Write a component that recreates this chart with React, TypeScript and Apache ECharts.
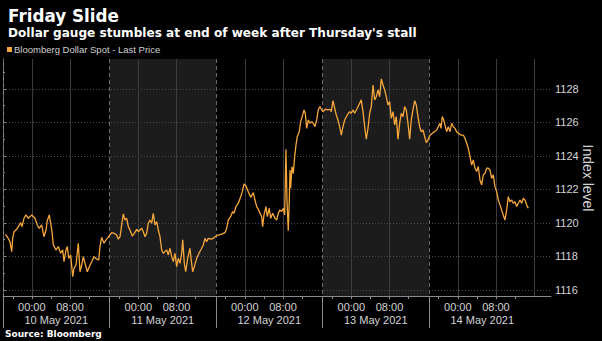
import React, { useEffect, useRef } from "react";
import * as echarts from "echarts";

const TITLE = "Friday Slide";
const SUBTITLE = "Dollar gauge stumbles at end of week after Thursday's stall";
const SERIES_NAME = "Bloomberg Dollar Spot - Last Price";
const SOURCE = "Source: Bloomberg";
const AXIS_NAME = "Index level";

const DAY_LABELS = ["10 May 2021", "11 May 2021", "12 May 2021", "13 May 2021", "14 May 2021"];
const TIME_LABELS = ["00:00", "08:00"];
const TIME_OFFSETS = [6.5, 15.1]; // session hours after each day's start
const MINOR_TIME_OFFSETS = [2.2, 6.5, 10.8, 15.1, 19.4];
const SESSION_HOURS = 24;
const SESSION_END_OFFSET = 23.66;
const SHADED_DAYS = [1, 3];
const Y_TICKS = [1116, 1118, 1120, 1122, 1124, 1126, 1128];
const Y_MINOR = [1117, 1119, 1121, 1123, 1125, 1127, 1129];
const X_MIN = 0;
const X_MAX = 123.5;
const Y_MIN = 1115.64;
const Y_MAX = 1129.79;

// [session hour, index value]
const MAY10: [number, number][] = [
  [0.5, 1119.3], [0.68, 1119.28], [1.19, 1119.08], [1.58, 1118.88], [1.96, 1118.29], [2.19, 1119.08], [2.48, 1119.48],
  [3.09, 1119.62], [3.45, 1119.78], [3.99, 1120.02], [4.28, 1119.78], [4.73, 1120.28], [5.18, 1120.48], [5.7, 1120.28],
  [6.47, 1120.48], [7.21, 1120.28], [7.73, 1119.88], [8.18, 1119.68], [8.72, 1119.88], [9.24, 1119.18], [9.69, 1119.58],
  [9.98, 1120.14], [10.43, 1120.48], [10.75, 1119.98], [11.04, 1119.48], [11.34, 1118.69], [11.94, 1118.39], [12.46, 1118.59],
  [13.0, 1118.19], [13.45, 1118.39], [13.75, 1117.69], [14.2, 1118.39], [14.49, 1118.59], [14.81, 1117.89], [15.26, 1118.09],
  [15.71, 1116.79], [16.0, 1117.29], [16.45, 1117.49], [16.97, 1118.79], [17.35, 1117.09], [17.74, 1117.49], [18.1, 1117.99],
  [18.48, 1117.59], [19.0, 1117.09], [19.45, 1117.39], [19.99, 1117.69], [20.51, 1117.99], [21.12, 1117.84], [21.57, 1117.79],
  [21.86, 1118.59], [22.24, 1119.14], [22.76, 1118.79], [23.21, 1118.99], [23.5, 1119.08],
];
const MAY11: [number, number][] = [
  [24.5, 1119.42], [25.08, 1119.38], [25.62, 1119.28], [25.98, 1119.03], [26.37, 1119.18], [26.75, 1119.88], [27.11, 1120.54],
  [27.49, 1120.18], [27.87, 1120.28], [28.24, 1119.78], [28.62, 1119.58], [29.14, 1119.22], [29.59, 1119.38], [30.13, 1119.62],
  [30.49, 1119.48], [30.87, 1119.58], [31.26, 1119.68], [31.62, 1119.48], [32.0, 1119.18], [32.38, 1119.38], [32.74, 1119.98],
  [33.13, 1120.18], [33.51, 1119.98], [33.87, 1120.58], [34.25, 1119.88], [34.64, 1120.08], [35.0, 1119.58], [35.38, 1119.18],
  [35.76, 1118.39], [36.12, 1118.19], [36.51, 1118.29], [36.89, 1118.39], [37.25, 1118.09], [37.63, 1118.49], [38.02, 1117.99],
  [38.38, 1117.69], [38.76, 1118.19], [39.14, 1117.39], [39.5, 1117.89], [39.89, 1117.59], [40.27, 1118.19], [40.5, 1118.99],
  [40.86, 1117.59], [41.17, 1117.09], [41.62, 1117.89], [42.14, 1118.49], [42.37, 1117.89], [42.75, 1117.09], [43.11, 1117.39],
  [43.65, 1117.89], [44.17, 1118.19], [44.78, 1118.49], [45.14, 1118.69], [45.52, 1119.08], [45.9, 1118.88], [46.26, 1119.08],
  [46.87, 1119.03], [47.39, 1119.08], [47.77, 1119.18],
];
const MAY12: [number, number][] = [
  [48.52, 1119.28], [49.28, 1119.34], [50.03, 1119.42], [50.41, 1119.68], [50.77, 1120.18], [51.31, 1120.38], [51.76, 1120.68],
  [52.06, 1120.58], [52.51, 1120.98], [53.03, 1121.18], [53.57, 1121.57], [53.93, 1121.87], [54.31, 1122.33], [54.76, 1122.21],
  [55.28, 1121.87], [55.82, 1121.53], [56.41, 1121.81], [56.79, 1121.37], [57.17, 1120.98], [57.53, 1120.82], [57.92, 1120.58],
  [58.3, 1120.38], [58.52, 1119.78], [58.82, 1120.48], [59.27, 1120.98], [59.56, 1120.38], [60.01, 1120.88], [60.33, 1120.28],
  [60.78, 1120.58], [61.3, 1120.28], [61.68, 1120.18], [62.04, 1120.58], [62.42, 1120.78], [62.81, 1120.68], [63.17, 1120.88],
  [63.48, 1120.48], [63.77, 1124.4], [64.0, 1121.37], [64.29, 1119.54], [64.52, 1121.37], [64.68, 1123.16], [64.83, 1122.07],
  [65.13, 1123.36], [65.42, 1122.96], [65.73, 1123.96], [66.03, 1124.66], [66.32, 1125.16], [66.77, 1125.45], [67.09, 1126.05],
  [67.54, 1126.45], [67.83, 1126.75], [68.12, 1126.55], [68.44, 1125.65], [68.8, 1126.15], [69.18, 1125.95], [69.57, 1126.05],
  [69.93, 1125.95], [70.31, 1125.75], [70.69, 1126.15], [71.05, 1126.75], [71.44, 1126.95], [71.82, 1126.75],
];
const MAY13: [number, number][] = [
  [72.11, 1126.65], [72.63, 1126.79], [73.24, 1126.75], [73.69, 1126.79], [73.98, 1126.65], [74.37, 1127.3], [74.75, 1126.85],
  [75.11, 1126.45], [75.49, 1126.15], [75.87, 1125.75], [76.24, 1125.25], [76.62, 1125.75], [77.0, 1126.15], [77.59, 1126.45],
  [78.13, 1126.65], [78.49, 1126.55], [78.87, 1126.75], [79.26, 1126.55], [79.84, 1126.85], [80.38, 1127.15], [80.74, 1127.35],
  [81.13, 1126.65], [81.51, 1125.75], [81.87, 1125.0], [82.25, 1125.65], [82.64, 1126.55], [83.0, 1126.95], [83.38, 1128.24],
  [83.76, 1127.35], [84.13, 1127.54], [84.51, 1127.94], [84.89, 1127.54], [85.25, 1128.6], [85.63, 1128.24], [86.02, 1127.94],
  [86.38, 1127.54], [86.76, 1127.04], [87.14, 1127.25], [87.5, 1126.25], [87.89, 1126.65], [88.27, 1125.85], [88.63, 1126.35],
  [89.01, 1125.0], [89.4, 1125.95], [89.76, 1126.55], [90.14, 1126.35], [90.52, 1126.95], [90.88, 1126.75], [91.27, 1125.95],
  [91.65, 1125.0], [92.01, 1126.15], [92.39, 1126.75], [92.78, 1127.3], [93.14, 1127.04], [93.52, 1126.35], [93.9, 1125.75],
  [94.26, 1125.45], [94.65, 1125.55], [95.03, 1125.16], [95.39, 1124.8], [95.77, 1124.95],
];
const MAY14: [number, number][] = [
  [96.23, 1125.25], [96.74, 1125.35], [97.2, 1125.45], [97.74, 1125.55], [98.1, 1125.75], [98.48, 1125.95], [98.7, 1125.65],
  [99.0, 1126.35], [99.32, 1126.15], [99.61, 1125.85], [99.99, 1125.45], [100.35, 1125.75], [100.73, 1125.45], [101.12, 1125.95],
  [101.48, 1125.75], [101.86, 1125.65], [102.24, 1125.45], [102.6, 1125.35], [103.21, 1125.25], [103.73, 1125.25], [104.11, 1125.06],
  [104.5, 1124.76], [104.86, 1124.46], [105.24, 1123.96], [105.62, 1123.46], [105.98, 1123.76], [106.37, 1123.27], [106.75, 1123.07],
  [107.11, 1123.37], [107.49, 1122.57], [107.88, 1122.27], [108.24, 1122.87], [108.62, 1122.97], [109.0, 1123.27], [109.36, 1123.27],
  [109.75, 1123.16], [110.13, 1122.67], [110.49, 1122.87], [110.87, 1122.17], [111.25, 1121.87], [111.62, 1121.37], [112.0, 1121.08],
  [112.38, 1120.78], [112.74, 1120.48], [113.13, 1120.18], [113.51, 1120.78], [113.87, 1121.57], [114.25, 1121.27], [114.64, 1121.37],
  [115.0, 1121.18], [115.38, 1121.27], [115.76, 1120.98], [116.12, 1121.18], [116.51, 1121.37], [116.89, 1121.18], [117.25, 1121.48],
  [117.63, 1121.37], [118.01, 1121.08], [118.38, 1120.88],
];

const LABEL_COLOR = "#d4d4d4";
const AXIS_COLOR = "#8a8a8a";
const LINE_COLOR = "#f6a73b";

export default function App() {
  const ref = useRef<HTMLDivElement>(null);

  useEffect(() => {
    document.body.style.margin = "0";
    document.body.style.background = "#000";
    if (!ref.current) return;
    const chart = echarts.init(ref.current, null, { renderer: "svg" });

    const dayStarts = DAY_LABELS.map((_, i) => i * SESSION_HOURS);
    const timeLabelValues = dayStarts.flatMap((d) => TIME_OFFSETS.map((o) => d + o));
    const timeTickValues = dayStarts.flatMap((d) => MINOR_TIME_OFFSETS.map((o) => d + o));
    const dayCenters = dayStarts.map((d) => d + SESSION_HOURS / 2);
    const solidGrid = [...timeLabelValues, dayStarts[dayStarts.length - 1] + SESSION_END_OFFSET];
    const allData = [...MAY10, ...MAY11, ...MAY12, ...MAY13, ...MAY14];

    const timeFormatter = (v: number) => {
      const off = v - Math.floor(v / SESSION_HOURS) * SESSION_HOURS;
      let best = 0;
      TIME_OFFSETS.forEach((o, i) => {
        if (Math.abs(o - off) < Math.abs(TIME_OFFSETS[best] - off)) best = i;
      });
      return TIME_LABELS[best];
    };

    const option: any = {
      animation: false,
      backgroundColor: "#000",
      title: [
        {
          text: TITLE,
          left: 3,
          top: 2,
          textStyle: { color: "#fff", fontFamily: "DejaVu Sans", fontWeight: "bold", fontSize: 16.8 },
        },
        {
          text: SUBTITLE,
          left: 3,
          top: 22,
          textStyle: { color: "#fff", fontFamily: "DejaVu Sans", fontWeight: "bold", fontSize: 12.1 },
        },
      ],
      graphic: [
        { type: "rect", left: 7, top: 47, shape: { width: 5, height: 5 }, style: { fill: LINE_COLOR } },
        {
          type: "text",
          left: 14,
          top: 44.5,
          style: { text: SERIES_NAME, fill: "#d0d0d0", font: "9.5px 'Liberation Sans'" },
        },
        {
          type: "text",
          left: 5,
          top: 329,
          style: { text: SOURCE, fill: "#fff", font: "bold 9px 'DejaVu Sans'" },
        },
        {
          type: "text",
          x: 588,
          y: 178,
          rotation: -Math.PI / 2,
          style: {
            text: AXIS_NAME,
            fill: LABEL_COLOR,
            font: "14px 'Liberation Sans'",
            align: "center",
            verticalAlign: "middle",
          },
        },
      ],
      grid: { left: 3, right: 51, top: 59, bottom: 45, containLabel: false, outerBoundsMode: "none" },
      xAxis: [
        {
          type: "value",
          min: X_MIN,
          max: X_MAX,
          position: "bottom",
          axisLine: { show: true, lineStyle: { color: AXIS_COLOR, width: 1 } },
          axisTick: { show: true, customValues: timeTickValues, length: 3, lineStyle: { color: AXIS_COLOR } },
          axisLabel: {
            customValues: timeLabelValues,
            formatter: timeFormatter,
            color: LABEL_COLOR,
            fontFamily: "Liberation Sans",
            fontSize: 11,
            margin: 5,
          },
          splitLine: { show: false },
        },
        {
          type: "value",
          min: X_MIN,
          max: X_MAX,
          position: "bottom",
          axisLine: { show: false },
          axisTick: { show: true, customValues: dayStarts, length: 32, lineStyle: { color: AXIS_COLOR } },
          axisLabel: {
            customValues: dayCenters,
            formatter: (v: number) => DAY_LABELS[Math.floor(v / SESSION_HOURS)] ?? "",
            color: LABEL_COLOR,
            fontFamily: "Liberation Sans",
            fontSize: 11,
            margin: 18,
          },
          splitLine: { show: false },
        },
      ],
      yAxis: [
        {
          type: "value",
          position: "right",
          min: Y_MIN,
          max: Y_MAX,
          axisLine: { show: true, lineStyle: { color: AXIS_COLOR } },
          axisTick: { show: true, customValues: Y_TICKS, length: 3, lineStyle: { color: AXIS_COLOR } },
          axisLabel: {
            customValues: Y_TICKS,
            formatter: (v: number) => String(v),
            color: LABEL_COLOR,
            fontFamily: "Liberation Sans",
            fontSize: 11,
            margin: 4,
          },
          splitLine: { show: false },
        },
        {
          type: "value",
          position: "right",
          min: Y_MIN,
          max: Y_MAX,
          axisLine: { show: false },
          axisTick: { show: true, customValues: Y_MINOR, length: 2, lineStyle: { color: AXIS_COLOR } },
          axisLabel: { show: false },
          splitLine: { show: false },
        },
      ],
      series: [
        {
          type: "custom",
          silent: true,
          z: 0,
          encode: { x: [0, 1], y: [2, 3] },
          data: SHADED_DAYS.map((d) => [dayStarts[d], dayStarts[d] + SESSION_HOURS, Y_MIN, Y_MAX]),
          renderItem: (_p: any, api: any) => {
            const a = api.coord([api.value(0), api.value(3)]);
            const b = api.coord([api.value(1), api.value(2)]);
            return {
              type: "rect",
              shape: { x: a[0], y: a[1], width: b[0] - a[0], height: b[1] - a[1] },
              style: { fill: "#1c1c1c" },
            };
          },
        },
        {
          type: "custom",
          silent: true,
          z: 1,
          encode: { x: [0, 1], y: 2 },
          data: Y_TICKS.map((v) => [X_MIN, X_MAX, v]),
          renderItem: (_p: any, api: any) => {
            const a = api.coord([api.value(0), api.value(2)]);
            const b = api.coord([api.value(1), api.value(2)]);
            return {
              type: "line",
              shape: { x1: a[0], y1: Math.round(a[1]) + 0.5, x2: b[0], y2: Math.round(b[1]) + 0.5 },
              style: { stroke: "#4a4a4a", lineWidth: 1, lineDash: [1, 2] },
            };
          },
        },
        {
          type: "custom",
          silent: true,
          z: 1,
          encode: { x: 0, y: [1, 2] },
          data: solidGrid.map((x) => [x, Y_MIN, Y_MAX]),
          renderItem: (_p: any, api: any) => {
            const a = api.coord([api.value(0), api.value(2)]);
            const b = api.coord([api.value(0), api.value(1)]);
            return {
              type: "line",
              shape: { x1: Math.round(a[0]) + 0.5, y1: a[1], x2: Math.round(b[0]) + 0.5, y2: b[1] },
              style: { stroke: "#3c3c3c", lineWidth: 1 },
            };
          },
        },
        {
          type: "custom",
          silent: true,
          z: 2,
          encode: { x: 0, y: [1, 2] },
          data: dayStarts.map((x) => [x, Y_MIN, Y_MAX]),
          renderItem: (_p: any, api: any) => {
            const a = api.coord([api.value(0), api.value(2)]);
            const b = api.coord([api.value(0), api.value(1)]);
            return {
              type: "line",
              shape: { x1: Math.round(a[0]) + 0.5, y1: a[1], x2: Math.round(b[0]) + 0.5, y2: b[1] },
              style: { stroke: "#6a6a6a", lineWidth: 1, lineDash: [4, 3] },
            };
          },
        },
        {
          name: SERIES_NAME,
          type: "line",
          z: 5,
          showSymbol: false,
          symbol: "none",
          data: allData,
          lineStyle: { color: LINE_COLOR, width: 1.3 },
        },
      ],
    };

    chart.setOption(option);
    return () => chart.dispose();
  }, []);

  return <div ref={ref} style={{ width: 602, height: 341, background: "#000" }} />;
}
